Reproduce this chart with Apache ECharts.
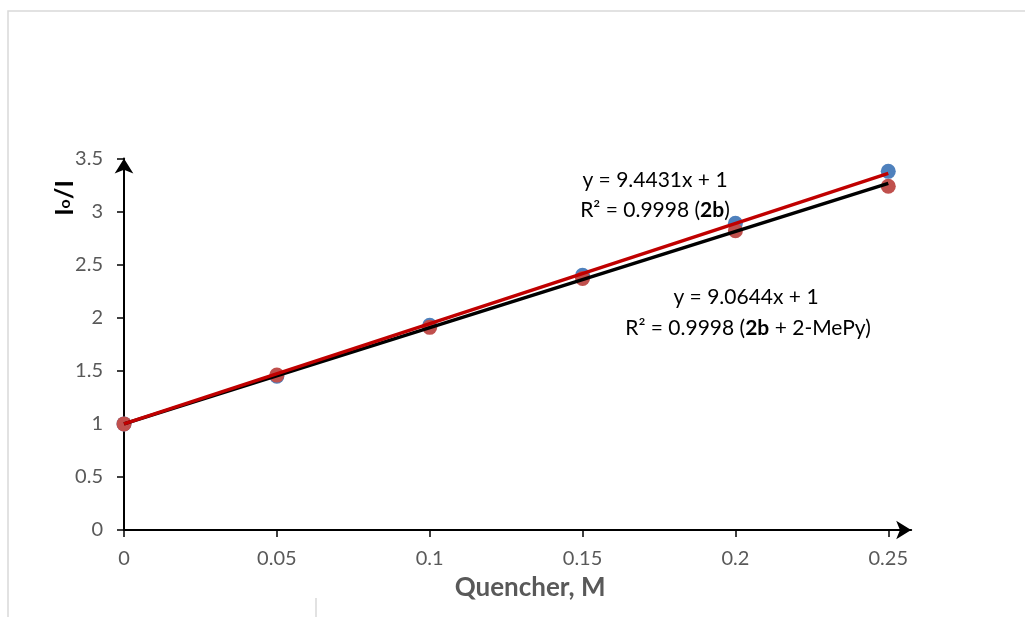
<!DOCTYPE html>
<html>
<head>
<meta charset="utf-8">
<script src="https://cdn.jsdelivr.net/npm/echarts@6/dist/echarts.min.js"></script>
<style>html,body{margin:0;padding:0;background:#fff;}#c{width:1025px;height:617px;}</style>
</head>
<body>
<div id="c"></div>
<script>
// ---- data ----
const quencher = [0, 0.05, 0.1, 0.15, 0.2, 0.25];
const ratio2b = [1, 1.45, 1.93, 2.40, 2.89, 3.38];
const ratio2bMePy = [1, 1.46, 1.91, 2.37, 2.82, 3.24];
const slope2b = 9.4431;
const slope2bMePy = 9.0644;
const intercept = 1;
const trendX = [0, 0.25];
const xTicks = [0, 0.05, 0.1, 0.15, 0.2, 0.25];
const yTicks = [0, 0.5, 1, 1.5, 2, 2.5, 3, 3.5];

const pts2b = quencher.map((x, i) => [x, ratio2b[i]]);
const pts2bMePy = quencher.map((x, i) => [x, ratio2bMePy[i]]);
const trend2b = trendX.map(x => [x, slope2b * x + intercept]);
const trend2bMePy = trendX.map(x => [x, slope2bMePy * x + intercept]);

const FONT = 'Lato';
const chart = echarts.init(document.getElementById('c'), null, {renderer: 'canvas'});
chart.setOption({
  animation: false,
  backgroundColor: '#fff',
  grid: {left: 124, top: 158.6, right: 113.8, bottom: 87, containLabel: false},
  xAxis: {
    type: 'value', min: 0, max: 0.2575,
    splitLine: {show: false},
    axisLine: {lineStyle: {color: '#000', width: 2}, symbol: ['none', 'arrow'], symbolSize: [14, 15]},
    axisTick: {show: true, inside: false, length: 7, lineStyle: {color: '#000', width: 1.5}, customValues: xTicks},
    axisLabel: {customValues: xTicks, color: '#595959', fontFamily: FONT, fontSize: 20, margin: 19,
      formatter: v => String(+v.toFixed(2))},
    name: 'Quencher, M', nameLocation: 'middle', nameGap: 45,
    nameTextStyle: {color: '#595959', fontFamily: FONT, fontSize: 26, fontWeight: 'bold', padding: [0, 0, 0, 25]}
  },
  yAxis: {
    type: 'value', min: 0, max: 3.5, interval: 0.5,
    splitLine: {show: false},
    axisLine: {show: true, lineStyle: {color: '#000', width: 2}, symbol: ['none', 'arrow'], symbolSize: [14, 15]},
    axisTick: {show: true, inside: false, length: 7, lineStyle: {color: '#000', width: 1.5}, customValues: yTicks},
    axisLabel: {customValues: yTicks, color: '#595959', fontFamily: FONT, fontSize: 20, margin: 21}
  },
  series: [
    {type: 'scatter', name: '2b', data: pts2b, symbolSize: 15, itemStyle: {color: '#4F81BD', opacity: 1}, z: 2},
    {type: 'scatter', name: '2b + 2-MePy', data: pts2bMePy, symbolSize: 15, itemStyle: {color: '#C0504D', opacity: 1}, z: 3},
    {type: 'line', data: trend2bMePy, symbol: 'none', lineStyle: {color: '#000', width: 3.5}, z: 4},
    {type: 'line', data: trend2b, symbol: 'none', lineStyle: {color: '#C00000', width: 3.5}, z: 5}
  ],
  graphic: [
    {type: 'rect', silent: true, shape: {x: 8, y: 11, width: 1030, height: 620},
      style: {fill: 'none', stroke: '#d9d9d9', lineWidth: 1.5}},
    {type: 'line', silent: true, shape: {x1: 316, y1: 598, x2: 316, y2: 617},
      style: {stroke: '#d9d9d9', lineWidth: 1.5}},
    {type: 'text', x: 65, y: 198, rotation: Math.PI / 2,
      style: {text: '{a|I}{b|o}{a|/I}', align: 'center', verticalAlign: 'middle',
        rich: {a: {fontFamily: FONT, fontSize: 25, fontWeight: 'bold', fill: '#000', lineHeight: 28},
               b: {fontFamily: FONT, fontSize: 16, fontWeight: 'bold', fill: '#000', lineHeight: 28}}}},
    {type: 'text', x: 655, y: 180,
      style: {text: 'y = 9.4431x + 1', align: 'center', verticalAlign: 'middle', fontFamily: FONT, fontSize: 21, fill: '#000'}},
    {type: 'text', x: 655, y: 210,
      style: {text: '{n|R² = 0.9998 (}{b|2b}{n|)}', align: 'center', verticalAlign: 'middle',
        rich: {n: {fontFamily: FONT, fontSize: 21, fill: '#000'}, b: {fontFamily: FONT, fontSize: 21, fontWeight: 'bold', fill: '#000'}}}},
    {type: 'text', x: 746, y: 297,
      style: {text: 'y = 9.0644x + 1', align: 'center', verticalAlign: 'middle', fontFamily: FONT, fontSize: 21, fill: '#000'}},
    {type: 'text', x: 748, y: 328,
      style: {text: '{n|R² = 0.9998 (}{b|2b}{n| + 2-MePy)}', align: 'center', verticalAlign: 'middle',
        rich: {n: {fontFamily: FONT, fontSize: 21, fill: '#000'}, b: {fontFamily: FONT, fontSize: 21, fontWeight: 'bold', fill: '#000'}}}}
  ]
});
</script>
</body>
</html>
